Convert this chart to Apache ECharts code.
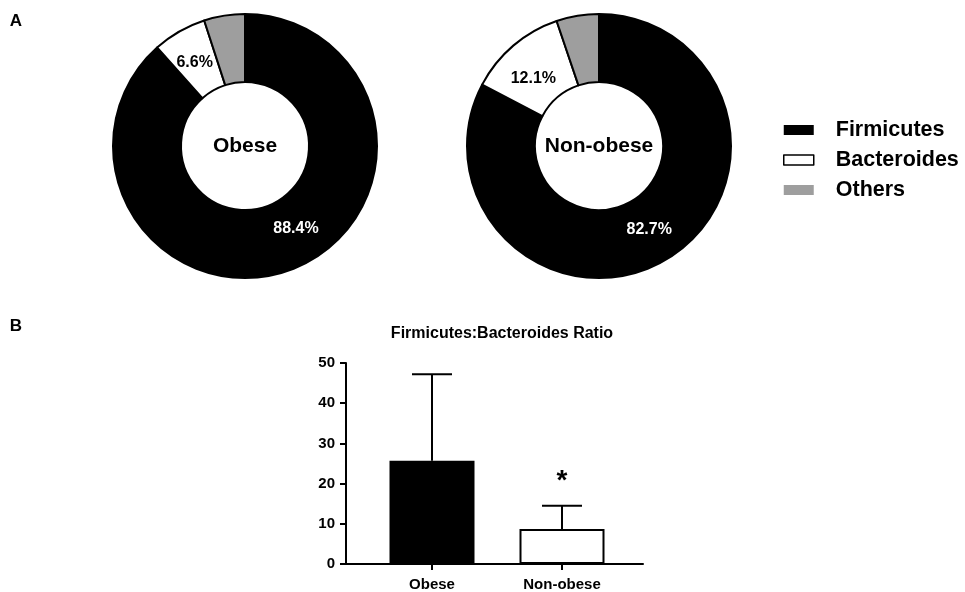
<!DOCTYPE html>
<html>
<head>
<meta charset="utf-8">
<title>Firmicutes / Bacteroides</title>
<script src="https://cdn.jsdelivr.net/npm/echarts@6/dist/echarts.min.js"></script>
<style>
  html, body { margin: 0; padding: 0; background: #fff; }
  #main { width: 965px; height: 592px; }
</style>
</head>
<body>
<div id="main"></div>
<script>
// data
const groups = ['Obese', 'Non-obese'];
const taxa = ['Firmicutes', 'Bacteroides', 'Others'];
const obeseShare = [88.4, 6.6, 5.0];
const nonObeseShare = [82.7, 12.1, 5.2];
const ratioMean = [25.7, 8.7];
const ratioUpper = [47.2, 14.5];   // mean + SD
const significance = ['', '*'];
const yTicks = [0, 10, 20, 30, 40, 50];

const font = '"Liberation Sans", Arial, Helvetica, sans-serif';
const taxaColors = ['#000000', '#ffffff', '#9e9e9e'];
const labelColors = ['#ffffff', '#000000', '#000000'];

// small nudges so the in-ring labels sit where the figure has them
const obeseLabelOffset = [[15, -12], [0, 4], [0, 0]];
const nonObeseLabelOffset = [[-2, -3], [0, 9], [0, 0]];

function pieData(shares, offsets) {
  return taxa.map(function (name, i) {
    return {
      name: name,
      value: shares[i],
      itemStyle: { color: taxaColors[i] },
      label: { show: i < 2, color: labelColors[i], offset: offsets[i] }
    };
  });
}

function donut(center, shares, offsets) {
  return {
    type: 'pie',
    center: center,
    radius: [64, 132],
    startAngle: 90,
    silent: true,
    avoidLabelOverlap: false,
    itemStyle: { borderColor: '#000', borderWidth: 2 },
    label: {
      position: 'inside',
      fontFamily: font,
      fontWeight: 'bold',
      fontSize: 16,
      formatter: function (p) { return p.value.toFixed(1) + '%'; }
    },
    labelLine: { show: false },
    data: pieData(shares, offsets)
  };
}

const dom = document.getElementById('main');
const myChart = echarts.init(dom);

const option = {
  backgroundColor: '#fff',
  animation: false,
  title: {
    text: 'Firmicutes:Bacteroides Ratio',
    left: 497,
    top: 321,
    textAlign: 'center',
    textStyle: { fontFamily: font, fontWeight: 'bold', fontSize: 16, color: '#000' }
  },
  legend: {
    orient: 'vertical',
    left: 778,
    top: 114,
    icon: 'rect',
    itemWidth: 30,
    itemHeight: 10,
    itemGap: 8,
    selectedMode: false,
    textStyle: {
      fontFamily: font, fontWeight: 'bold', fontSize: 21.5, color: '#000',
      lineHeight: 22, padding: [0, 0, 0, 17]
    },
    data: [
      { name: 'Firmicutes', itemStyle: { borderWidth: 0 } },
      { name: 'Bacteroides', itemStyle: { borderColor: '#000', borderWidth: 1.5 } },
      { name: 'Others', itemStyle: { borderWidth: 0 } }
    ]
  },
  graphic: [
    { type: 'text', x: 16, y: 21, style: { text: 'A', font: 'bold 17px ' + font, fill: '#000', textAlign: 'center', textVerticalAlign: 'middle' } },
    { type: 'text', x: 16, y: 326, style: { text: 'B', font: 'bold 17px ' + font, fill: '#000', textAlign: 'center', textVerticalAlign: 'middle' } },
    { type: 'text', x: 245, y: 146, style: { text: groups[0], font: 'bold 21px ' + font, fill: '#000', textAlign: 'center', textVerticalAlign: 'middle' } },
    { type: 'text', x: 599, y: 146, style: { text: groups[1], font: 'bold 21px ' + font, fill: '#000', textAlign: 'center', textVerticalAlign: 'middle' } }
  ],
  grid: [
    { left: 346, top: 363, width: 297, height: 201 },
    { left: 367, top: 363, width: 260, height: 201 }
  ],
  xAxis: [
    {
      gridIndex: 0, type: 'value', min: 0, max: 1,
      axisLine: { show: true, lineStyle: { color: '#000', width: 2 } },
      axisTick: { show: false }, axisLabel: { show: false }, splitLine: { show: false }
    },
    {
      gridIndex: 1, type: 'category', data: groups,
      axisLine: { show: false },
      axisTick: { show: true, alignWithLabel: true, length: 6, lineStyle: { color: '#000', width: 2 } },
      axisLabel: { margin: 13, color: '#000', fontFamily: font, fontWeight: 'bold', fontSize: 15 },
      splitLine: { show: false }
    }
  ],
  yAxis: [
    {
      gridIndex: 0, type: 'value', min: yTicks[0], max: yTicks[yTicks.length - 1], interval: 10,
      axisLine: { show: true, lineStyle: { color: '#000', width: 2 } },
      axisTick: { show: true, length: 6, lineStyle: { color: '#000', width: 2 } },
      axisLabel: { margin: 11, color: '#000', fontFamily: font, fontWeight: 'bold', fontSize: 15 },
      splitLine: { show: false }
    },
    {
      gridIndex: 1, type: 'value', min: yTicks[0], max: yTicks[yTicks.length - 1], show: false
    }
  ],
  series: [
    donut([245, 146], obeseShare, obeseLabelOffset),
    donut([599, 146], nonObeseShare, nonObeseLabelOffset),
    {
      type: 'bar',
      xAxisIndex: 1,
      yAxisIndex: 1,
      barWidth: 85,
      silent: true,
      data: ratioMean.map(function (v, i) {
        return { value: v, itemStyle: { color: i === 0 ? '#000' : '#fff', borderColor: '#000', borderWidth: 2 } };
      })
    },
    {
      type: 'custom',
      xAxisIndex: 1,
      yAxisIndex: 1,
      silent: true,
      z: 3,
      data: ratioMean.map(function (v, i) { return [i, v, ratioUpper[i]]; }),
      renderItem: function (params, api) {
        const idx = api.value(0);
        const low = api.coord([idx, api.value(1)]);
        const high = api.coord([idx, api.value(2)]);
        const half = 20;
        const style = { stroke: '#000', lineWidth: 2 };
        const children = [
          { type: 'line', shape: { x1: high[0], y1: low[1], x2: high[0], y2: high[1] }, style: style },
          { type: 'line', shape: { x1: high[0] - half, y1: high[1], x2: high[0] + half, y2: high[1] }, style: style }
        ];
        if (significance[idx]) {
          children.push({
            type: 'text',
            x: high[0], y: high[1] - 24,
            style: { text: significance[idx], font: 'bold 28px ' + font, fill: '#000', textAlign: 'center', textVerticalAlign: 'middle' }
          });
        }
        return { type: 'group', children: children };
      }
    }
  ]
};

myChart.setOption(option, true);
</script>
</body>
</html>
